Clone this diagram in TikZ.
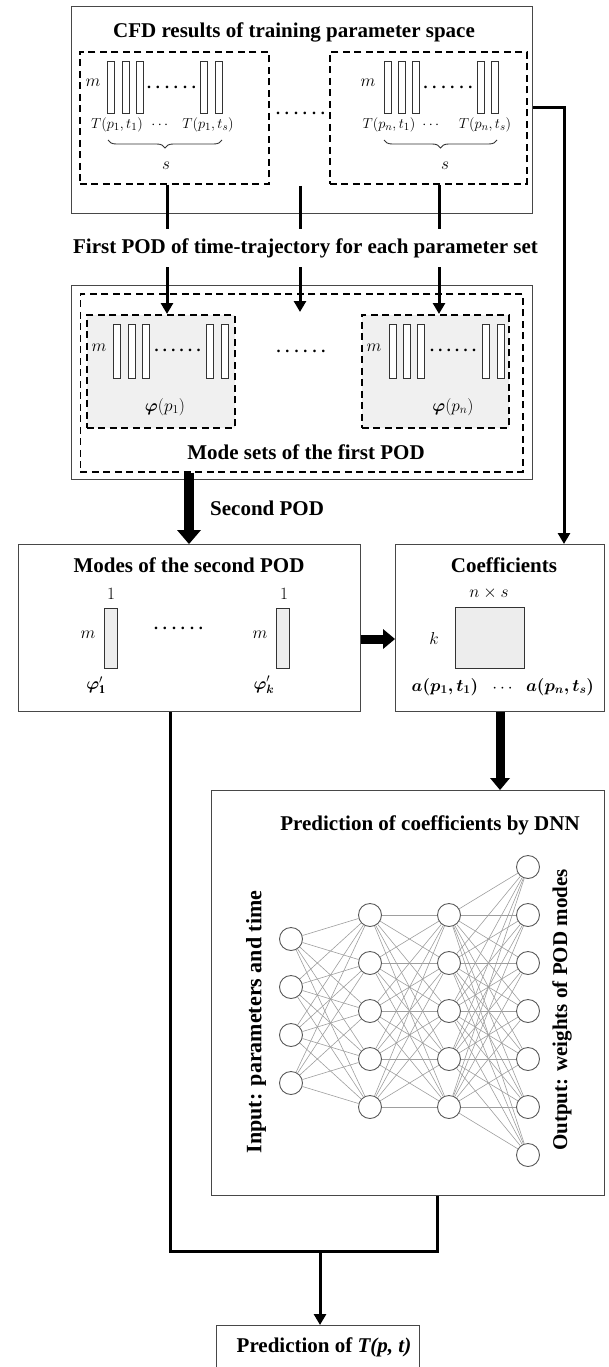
\documentclass[tikz,border=0pt]{standalone}
\usepackage{amsmath,bm}
\usepackage{fontspec}
\setmainfont{Liberation Serif}
\usetikzlibrary{arrows.meta,decorations.pathreplacing}
\newcommand{\sixdots}[1]{\makebox[#1][l]{\bfseries .\hfill.\hfill.\hfill.\hfill.\hfill.}}
\tikzset{
 frame/.style={draw=black!72, line width=1.3pt, inner sep=0pt, anchor=north west},
 dframe/.style={draw=black, line width=1.7pt, dash pattern=on 7pt off 4.5pt, inner sep=0pt, anchor=north west},
 colbar/.style={draw=black!80, line width=0.9pt, inner sep=0pt, minimum width=7pt, minimum height=52pt, anchor=north west, fill=white},
 ttl/.style={font=\fontsize{21}{24}\selectfont\bfseries, inner sep=0pt},
 mth/.style={font=\fontsize{17}{19}\selectfont, inner sep=0pt},
 tlab/.style={font=\fontsize{15}{17}\selectfont, inner sep=0pt},
 dotl/.style={font=\fontsize{16}{18}\selectfont, inner sep=0pt},
 conn/.style={line width=3pt},
 arr/.style={-{Triangle[width=12pt,length=11pt]}},
 fatarrow/.style={line width=#1, -{Triangle[width=24pt,length=14pt,line width=0pt]}},
 brc/.style={decorate, decoration={brace, mirror, amplitude=8pt}, line width=0.9pt, draw=black!80},
 neuron/.style={circle, draw=black!65, line width=0.9pt, fill=white, minimum size=23pt, inner sep=0pt},
 syn/.style={draw=black!38, line width=0.6pt},
}
\begin{document}
\begin{tikzpicture}[x=1pt,y=-1pt]
\path[use as bounding box] (0,0) rectangle (608,1367);
\clip (0,0) rectangle (608,1367);

% ---------- top box ----------
\node[frame, minimum width=461.5pt, minimum height=207pt] (topbox) at (70.5,6) {};
\node[ttl] (cfdtitle) at (294,32) {CFD results of training parameter space};
\node[dframe, minimum width=189pt, minimum height=132pt] (dl) at (79,51) {};
\node[dframe, minimum width=197pt, minimum height=132pt] (dr) at (329,51) {};
\foreach \x [count=\k] in {107,122,136,200,215} \node[colbar] (bl\k) at (\x,61) {};
\foreach \x [count=\k] in {384,398,412,477,491} \node[colbar] (br\k) at (\x,61) {};
\node[mth] (ml) at (93,83) {$m$};
\node[mth] (mr) at (368,83) {$m$};
\node[dotl] (dotsl) at (171.5,87) {\sixdots{49pt}};
\node[dotl] (dotsr) at (448,87) {\sixdots{49pt}};
\node[dotl] (dotsmid) at (300.5,113) {\sixdots{49pt}};
\node[tlab] (tl1) at (117,125) {$T(p_1,t_1)$};
\node[tlab] (tlc) at (161,125) {$\cdots$};
\node[tlab] (tl2) at (208,125) {$T(p_1,t_s)$};
\node[tlab] (tr1) at (389,125) {$T(p_n,t_1)$};
\node[tlab] (trc) at (432,125) {$\cdots$};
\node[tlab] (tr2) at (485,125) {$T(p_n,t_s)$};
\draw[brc] (108,140) -- (222,140);
\draw[brc] (384,140) -- (497,140);
\node[mth] (sl1) at (166,166) {$s$};
\node[mth] (sr1) at (445,166) {$s$};

% lines out of the top box
\coordinate (c1) at (167,229);
\coordinate (c2t) at (300,186);
\coordinate (c2) at (300,229);
\coordinate (c3) at (439,229);
\draw[conn] (dl.south -| c1) -- (c1);
\draw[conn] (c2t) -- (c2);
\draw[conn] (dr.south -| c3) -- (c3);

\node[ttl] (firstpod) at (305.5,248) {First POD of time-trajectory for each parameter set};

% ---------- second box ----------
\node[frame, minimum width=461.5pt, minimum height=194pt] (podbox) at (70.5,285) {};
\node[dframe, minimum width=442.5pt, minimum height=178pt] (modeset) at (79.5,293) {};
\node[dframe, fill=black!6, minimum width=148pt, minimum height=113pt] (sl) at (86,314) {};
\node[dframe, fill=black!6, minimum width=147pt, minimum height=113pt] (sr) at (361,314) {};
\foreach \x [count=\k] in {113,128,142,206,221} \node[colbar, minimum height=54pt] (cl\k) at (\x,324) {};
\foreach \x [count=\k] in {389,403,417,482,497} \node[colbar, minimum height=54pt] (cr\k) at (\x,324) {};
\node[mth] (m2l) at (99,348) {$m$};
\node[mth] (m2r) at (374,348) {$m$};
\node[dotl] (d2l) at (177.5,350) {\sixdots{46pt}};
\node[dotl] (d2r) at (453,350) {\sixdots{46pt}};
\node[dotl] (d2m) at (301,351) {\sixdots{49pt}};
\node[mth] (phil) at (165,407) {$\boldsymbol{\varphi}(p_1)$};
\node[mth] (phir) at (453,407) {$\boldsymbol{\varphi}(p_n)$};
\node[ttl] (modesettitle) at (306,452) {Mode sets of the first POD};

\coordinate (a1) at (167,267);
\coordinate (a2) at (300,267);
\coordinate (a2e) at (300,312);
\coordinate (a3) at (439,267);
\draw[conn, arr] (a1) -- (a1 |- sl.north);
\draw[conn, arr] (a2) -- (a2e);
\draw[conn, arr] (a3) -- (a3 |- sr.north);

% ---------- modes & coefficients ----------
\node[frame, minimum width=342.5pt, minimum height=167pt] (modes) at (17.5,544) {};
\node[frame, minimum width=209pt, minimum height=167pt] (coef) at (395,544) {};
\node[ttl] (modestitle) at (189,565) {Modes of the second POD};
\node[ttl] (coeftitle) at (504,565) {Coefficients};

\node[colbar, fill=black!7, minimum width=13pt, minimum height=60pt] (v1) at (104,608) {};
\node[colbar, fill=black!7, minimum width=13pt, minimum height=60pt] (v2) at (276,608) {};
\node[mth] (one1) at (111,594) {$1$};
\node[mth] (one2) at (284,594) {$1$};
\node[mth] (m3l) at (88,635) {$m$};
\node[mth] (m3r) at (260,635) {$m$};
\node[dotl] (d3) at (178.5,628) {\sixdots{49pt}};
\node[mth] (phi1) at (96,685) {$\boldsymbol{\varphi}^{\prime}_{\mathbf{1}}$};
\node[mth] (phik) at (264,685) {$\boldsymbol{\varphi}^{\prime}_{\boldsymbol{k}}$};

\node[draw=black!80, line width=1.1pt, fill=black!7, inner sep=0pt, minimum width=69pt, minimum height=61pt, anchor=north west] (sq) at (455,607) {};
\node[mth] (nxs) at (489,593) {$n\times s$};
\node[mth] (kk) at (434,638) {$k$};
\node[mth] (a11) at (445,687) {$\boldsymbol{a(p_1,t_1)}$};
\node[mth] (adots) at (504,689) {$\cdots$};
\node[mth] (ans) at (560,687) {$\boldsymbol{a(p_n,t_s)}$};

\node[ttl, anchor=west] (secondpod) at (210,508) {Second POD};
\coordinate (sp) at (189,471);
\draw[fatarrow=10pt] (sp |- modeset.south) -- (sp |- modes.north);

\coordinate (hz) at (0,639);
\draw[line width=9pt, -{Triangle[width=20pt,length=12pt,line width=0pt]}] (modes.east |- hz) -- (coef.west |- hz);

\coordinate (rj) at (564,108);
\draw[conn, arr] (rj -| topbox.east) -- (rj) -- (rj |- coef.north);

% ---------- DNN ----------
\node[frame, minimum width=393pt, minimum height=405pt] (dnn) at (211,790) {};
\coordinate (vx) at (500,0);
\draw[line width=9pt, -{Triangle[width=20pt,length=12pt,line width=0pt]}] (coef.south -| vx) -- (dnn.north -| vx);
\node[ttl] (dnntitle) at (430,825) {Prediction of coefficients by DNN};

\foreach \y [count=\k from 0] in {939,987,1035,1083} \node[neuron] (in\k) at (291,\y) {};
\foreach \y [count=\k from 0] in {915,963,1011,1059,1107} \node[neuron] (ha\k) at (370,\y) {};
\foreach \y [count=\k from 0] in {915,963,1011,1059,1107} \node[neuron] (hb\k) at (449,\y) {};
\foreach \y [count=\k from 0] in {867,915,963,1011,1059,1107,1155} \node[neuron] (out\k) at (528,\y) {};
\foreach \i in {0,...,3} \foreach \j in {0,...,4} \draw[syn] (in\i) -- (ha\j);
\foreach \i in {0,...,4} \foreach \j in {0,...,4} \draw[syn] (ha\i) -- (hb\j);
\foreach \i in {0,...,4} \foreach \j in {0,...,6} \draw[syn] (hb\i) -- (out\j);

\node[ttl, font=\fontsize{22}{24}\selectfont\bfseries, rotate=90] (inlab) at (256,1022) {Input: parameters and time};
\node[ttl, rotate=90] (outlab) at (562,1010) {Output: weights of POD modes};

% ---------- bottom ----------
\node[frame, minimum width=203pt, minimum height=60pt] (pred) at (216,1325) {};
\node[ttl] (predtitle) at (324,1347) {Prediction of \textit{T(p, t)}};
\coordinate (jl) at (170.5,1251);
\coordinate (jr) at (437,1251);
\coordinate (jm) at (320,1251);
\draw[conn] (modes.south -| jl) -- (jl) -- (jr) -- (jr |- dnn.south);
\draw[conn, arr] (jm) -- (jm |- pred.north);
\end{tikzpicture}
\end{document}
